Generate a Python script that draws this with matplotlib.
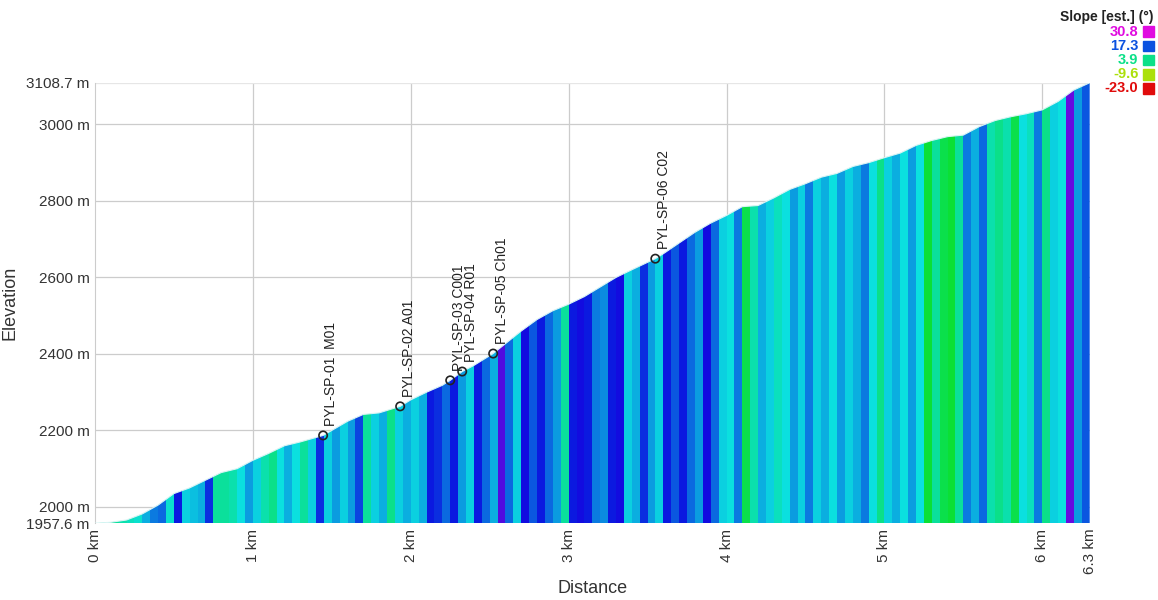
import numpy as np
import matplotlib
matplotlib.use("Agg")
import matplotlib.pyplot as plt
from matplotlib.patches import Polygon
from matplotlib.colors import hsv_to_rgb

plt.rcParams['font.family'] = ['Liberation Sans', 'DejaVu Sans']

# elevation profile (km, m)
dist = [0, 0.1, 0.2, 0.3, 0.4, 0.5, 0.6, 0.7, 0.8, 0.9, 1.0, 1.1, 1.2, 1.3, 1.445,
        1.6, 1.7, 1.8, 1.933, 2.0, 2.1, 2.2, 2.25, 2.326, 2.4, 2.522, 2.6, 2.7, 2.8,
        2.9, 3.0, 3.1, 3.2, 3.3, 3.4, 3.549, 3.6, 3.7, 3.8, 3.9, 4.0, 4.1, 4.2, 4.3,
        4.4, 4.5, 4.6, 4.7, 4.8, 4.9, 5.0, 5.1, 5.2, 5.3, 5.4, 5.5, 5.6, 5.7, 5.8,
        5.9, 6.0, 6.1, 6.2, 6.3]
elev = [1957.6, 1960, 1966, 1982, 2005, 2035, 2050, 2070, 2090, 2100, 2122, 2140, 2160,
        2170, 2187, 2224, 2242, 2246, 2263, 2280, 2300, 2318, 2331, 2354, 2370, 2401,
        2427, 2460, 2490, 2513, 2530, 2550, 2575, 2600, 2620, 2649, 2662, 2690, 2718,
        2742, 2762, 2785, 2788, 2808, 2830, 2845, 2862, 2872, 2890, 2900, 2913, 2925,
        2945, 2958, 2968, 2972, 2994, 3010, 3020, 3028, 3038, 3060, 3090, 3108.7]

# estimated slope (deg) per 50 m segment, read from the colours
seg_len = 0.05
slope = [5, 4, 5, 6, 7, 8, 12, 15, 16, 8, 20, 10, 11, 12, 19, 5, 5, 6, 9, 13,
         10, 6, 4, 9, 12, 9, 5, 10, 19, 10, 13, 10, 13, 18, 5, 10, 12, 4, 10, 12,
         10, 12, 20, 19, 16, 20, 13, 10, 20, 16, 12, 24, 16, 10, 21, 17, 20, 16, 13, 5,
         20, 21, 20, 15, 14, 20, 21, 10, 12, 19, 13, 10, 20, 17, 20, 16, 13, 21, 16, 10,
         9, 15, 1, 6, 12, 10, 7, 9, 13, 10, 15, 10, 12, 9, 13, 10, 12, 15, 9, 4,
         10, 12, 9, 13, 9, 0, 5, 1, 0, 5, 15, 12, 16, 6, 4, 6, 1, 9, 7, 15,
         4, 10, 9, 25, 13, 17]

waypoint_x = [1.445, 1.933, 2.25, 2.326, 2.522, 3.549]
waypoint_y = [2187, 2263, 2331, 2354, 2401, 2649]
waypoint_names = ["PYL-SP-01  M01", "PYL-SP-02 A01", "PYL-SP-03 C001",
                  "PYL-SP-04 R01", "PYL-SP-05 Ch01", "PYL-SP-06 C02"]

legend_vals = [30.8, 17.3, 3.9, -9.6, -23.0]
legend_hues = [300, 220, 155, 75, 0]

ymin, ymax = 1957.6, 3108.7


def slope_color(s):
    h = np.interp(s, legend_vals[::-1], legend_hues[::-1]) / 360.0
    return hsv_to_rgb([h, 0.95, 0.88])


fig = plt.figure(figsize=(11.58, 6), dpi=100)
ax = fig.add_axes([0.082, 0.128, 0.859, 0.734])

# profile outline used to clip the coloured slope bars
verts = [(dist[0], ymin)] + list(zip(dist, elev)) + [(dist[-1], ymin)]
prof = Polygon(verts, closed=True, facecolor='none', edgecolor='none')
ax.add_patch(prof)

lefts = np.arange(len(slope)) * seg_len
bars = ax.bar(lefts, ymax - ymin, width=seg_len, bottom=ymin, align='edge',
              color=[slope_color(s) for s in slope], linewidth=0, zorder=2)
for b in bars:
    b.set_clip_path(prof)
ax.plot(dist, elev, color='#d8f4f4', lw=0.8, zorder=3)

ax.scatter(waypoint_x, waypoint_y, s=36, facecolor='none', edgecolor='#222222',
           linewidth=1.2, zorder=4)
for x, y, n in zip(waypoint_x, waypoint_y, waypoint_names):
    ax.annotate(n, (x, y), xytext=(1, 7), textcoords='offset points', rotation=90,
                ha='left', va='bottom', fontsize=10, color='#222222')

ax.set_xlim(0, 6.3)
ax.set_ylim(ymin, ymax)
xt = [0, 1, 2, 3, 4, 5, 6, 6.3]
ax.set_xticks(xt)
ax.set_xticklabels([f"{v:g} km" for v in xt], rotation=90, fontsize=11, color='#333333')
yt = [1957.6, 2000, 2200, 2400, 2600, 2800, 3000, 3108.7]
ax.set_yticks(yt)
ax.set_yticklabels([f"{v:g} m" for v in yt], fontsize=11, color='#333333')
ax.tick_params(length=0, pad=4)
for v in [1, 2, 3, 4, 5, 6]:
    ax.axvline(v, color='#cccccc', lw=0.9, zorder=1)
for v in [2000, 2200, 2400, 2600, 2800, 3000]:
    ax.axhline(v, color='#cccccc', lw=0.9, zorder=1)
ax.axhline(ymax, color='#e6e6e6', lw=0.9, zorder=1)
for sp in ['top', 'right', 'bottom']:
    ax.spines[sp].set_visible(False)
ax.spines['left'].set_color('#cccccc')

ax.set_xlabel("Distance", fontsize=13, color='#333333')
ax.set_ylabel("Elevation", fontsize=13, color='#333333')
ax.xaxis.set_label_coords(0.5, -0.13)
ax.yaxis.set_label_coords(-0.077, 0.5)

# slope legend
fig.text(0.996, 0.972, "Slope [est.] (°)", ha='right', va='center', fontsize=10,
         fontweight='bold', color='#222222')
for i, v in enumerate(legend_vals):
    yy = 0.947 - i * 0.0235
    c = slope_color(v)
    fig.text(0.983, yy, f"{v:.1f}", ha='right', va='center', fontsize=10.5,
             fontweight='bold', color=c)
    fig.patches.append(plt.Rectangle((0.987, yy - 0.009), 0.0095, 0.018,
                                     transform=fig.transFigure, color=c))

fig.savefig("out.png", dpi=100)
